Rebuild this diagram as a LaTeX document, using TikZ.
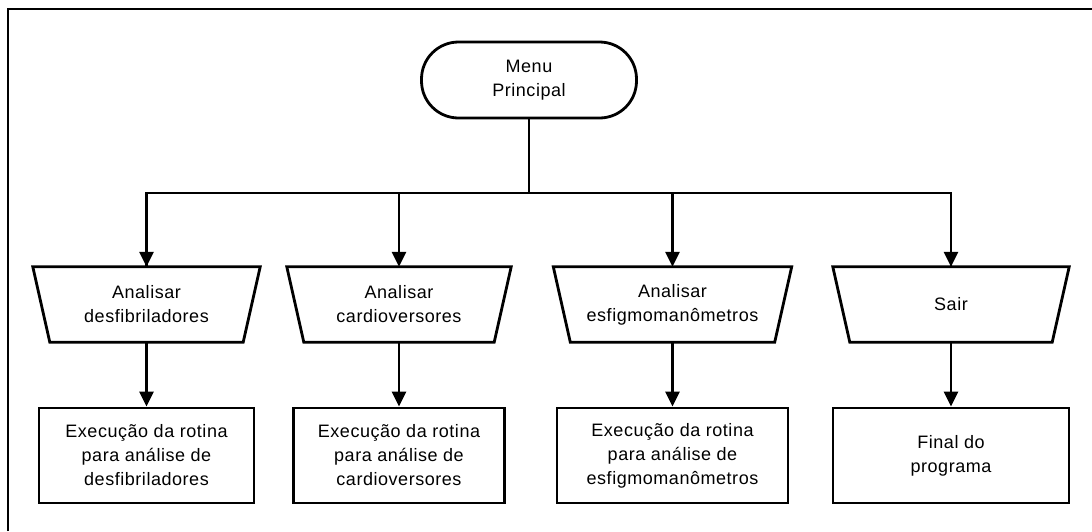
\documentclass[tikz,border=0pt]{standalone}
\usepackage{fontspec}
\setmainfont[LetterSpace=3]{Liberation Sans}
\usetikzlibrary{arrows.meta,calc}
\begin{document}
\begin{tikzpicture}[x=1pt,y=-1pt,
  every node/.style={font=\fontsize{18}{24}\selectfont, align=center, inner sep=0pt},
  lw/.style={line width=2.8pt},
  arr/.style={lw, -{Triangle[width=14pt,length=15pt]}},
  stadium/.style={draw, lw, rectangle, rounded corners=37pt, minimum width=215pt, minimum height=76pt},
  trapbox/.style={rectangle, minimum height=75pt},
  procbox/.style={draw, lw, rectangle, minimum height=95pt}
]
\useasboundingbox (0,0) rectangle (1092,531);
% frame
\draw[line width=2.4pt] (8,531) -- (8,9) -- (1092,9);

\node[stadium] (menu) at (529,80) {Menu\\Principal};

\node[trapbox, minimum width=227pt] (t1) at (146.5,304.5) {Analisar\\desfibriladores};
\node[trapbox, minimum width=224pt] (t2) at (399,304.5) {Analisar\\cardioversores};
\node[trapbox, minimum width=238pt] (t3) at (672.5,304.5) {Analisar\\esfigmoman\^ometros};
\node[trapbox, minimum width=236pt] (t4) at (951,304.5) {Sair};

\foreach \t in {t1,t2,t3,t4}{
  \draw[lw, line join=miter] (\t.north west) -- (\t.north east) -- ($(\t.south east)+(-17,0)$) -- ($(\t.south west)+(17,0)$) -- cycle;
}

\node[procbox, minimum width=215pt] (b1) at (146.5,455.5) {Execução da rotina\\para análise de\\desfibriladores};
\node[procbox, minimum width=211pt] (b2) at (399,455.5) {Execução da rotina\\para análise de\\cardioversores};
\node[procbox, minimum width=231pt] (b3) at (672.5,455.5) {Execução da rotina\\para análise de\\esfigmomanômetros};
\node[procbox, minimum width=236pt] (b4) at (951,455.5) {Final do\\programa};

\coordinate (bus) at (529,193);
\draw[lw] (menu.south) -- (bus);
\draw[lw] (bus) -| (t1.north);
\draw[lw] (bus) -| (t4.north);
\foreach \t in {t1,t2,t3,t4}{
  \draw[arr] (\t.north |- bus) -- (\t.north);
}
\foreach \t/\b in {t1/b1,t2/b2,t3/b3,t4/b4}{
  \draw[arr] (\t.south) -- (\b.north);
}
\end{tikzpicture}
\end{document}
